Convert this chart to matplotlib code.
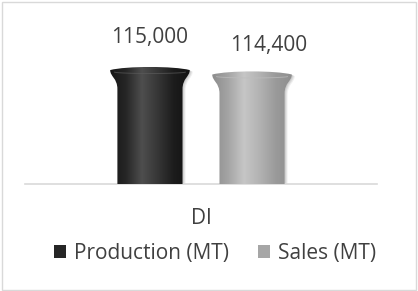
import numpy as np
import matplotlib
matplotlib.use('Agg')
import matplotlib.pyplot as plt
from matplotlib.path import Path
from matplotlib.patches import PathPatch, Rectangle, Patch
from matplotlib.colors import LinearSegmentedColormap
from matplotlib.transforms import ScaledTranslation

# data
categories = ['DI']
series_names = ['Production (MT)', 'Sales (MT)']
production = [115000]
sales = [114400]
labels = ['115,000', '114,400']

plt.rcParams['font.family'] = ['Open Sans', 'DejaVu Sans']
text_col = '#404040'

fig = plt.figure(figsize=(4.18, 2.91), dpi=100)
ax = fig.add_axes([25 / 418, 1 - 184 / 291, 352 / 418, 164 / 291])

ymin, ymax = 99200, 121340
x = np.arange(len(categories))
offset = 0.145
body_w = 0.185
flare_w = 0.226
flare_h = 3000
dome = 420

# gradient colours for each series
grads = [
    ['#161616', '#262626', '#4e4e4e', '#363636', '#1c1c1c', '#131313'],
    ['#8c8c8c', '#a4a4a4', '#c6c6c6', '#b2b2b2', '#9a9a9a', '#8e8e8e'],
]
cap_cols = ['#5a5a5a', '#bdbdbd']
# label nudges in points (second label sits right of its bar in the original)
label_nudge = [(0, 0), (12, -3)]

bars = []
for i, vals in enumerate([production, sales]):
    b = ax.bar(x + (i - 0.5) * 2 * offset, vals, body_w, bottom=0,
               color='none', edgecolor='none', label=series_names[i])
    bars.append(b)


def pipe_path(cx, top):
    bw = body_w / 2
    fw = flare_w / 2
    y_neck = top - flare_h
    y_lip = top - dome
    verts = [
        (cx - bw, ymin), (cx - bw, y_neck),
        (cx - bw, y_neck + flare_h * 0.5), (cx - fw, y_lip - flare_h * 0.3),
        (cx - fw, y_lip),
        (cx - fw * 0.6, top + dome / 3), (cx + fw * 0.6, top + dome / 3),
        (cx + fw, y_lip),
        (cx + fw, y_lip - flare_h * 0.3), (cx + bw, y_neck + flare_h * 0.5),
        (cx + bw, y_neck),
        (cx + bw, ymin), (cx - bw, ymin),
    ]
    codes = [Path.MOVETO, Path.LINETO,
             Path.CURVE4, Path.CURVE4, Path.CURVE4,
             Path.CURVE4, Path.CURVE4, Path.CURVE4,
             Path.CURVE4, Path.CURVE4, Path.CURVE4,
             Path.LINETO, Path.CLOSEPOLY]
    return Path(verts, codes)


for i, b in enumerate(bars):
    cmap = LinearSegmentedColormap.from_list('g%d' % i, grads[i])
    for rect in b:
        cx = rect.get_x() + rect.get_width() / 2
        top = rect.get_height()
        p = pipe_path(cx, top)
        # soft shadow on the right
        for k, a in [(3.0, 0.06), (2.0, 0.08), (1.0, 0.08)]:
            sh = PathPatch(p, facecolor='#000000', edgecolor='none', alpha=a,
                           transform=ax.transData + ScaledTranslation(
                               k / 100, -k / 200, fig.dpi_scale_trans))
            ax.add_patch(sh)
        patch = PathPatch(p, facecolor='none', edgecolor='none')
        ax.add_patch(patch)
        grad = np.linspace(0, 1, 256).reshape(1, -1)
        im = ax.imshow(grad, cmap=cmap, aspect='auto',
                       extent=[cx - flare_w / 2, cx + flare_w / 2, ymin, top + dome],
                       zorder=2)
        im.set_clip_path(patch)
        # faint rim line under the top
        t = np.linspace(0.15, np.pi - 0.15, 60)
        ax.plot(cx + flare_w / 2 * 0.9 * np.cos(t), top - dome * 1.6 - dome * 0.5 * np.sin(t),
                color=cap_cols[i], lw=0.7, alpha=0.7, zorder=3)
        ax.annotate(labels[i], (cx, top), xytext=(label_nudge[i][0], 14 + label_nudge[i][1]),
                    textcoords='offset points', ha='center', va='bottom',
                    fontsize=15, color=text_col)

ax.set_xlim(-0.5, 0.5)
ax.set_ylim(ymin, ymax)
for s in ['top', 'right', 'left']:
    ax.spines[s].set_visible(False)
ax.spines['bottom'].set_color('#d9d9d9')
ax.spines['bottom'].set_linewidth(1.2)
ax.spines['bottom'].set_zorder(1)
ax.set_yticks([])
ax.set_xticks(x)
ax.set_xticklabels(categories, fontsize=15, color=text_col)
ax.tick_params(axis='x', length=0, pad=17)

handles = [Patch(facecolor='#262626', edgecolor='none'),
           Patch(facecolor='#a6a6a6', edgecolor='none')]
fig.legend(handles, series_names, loc='center', bbox_to_anchor=(0.515, 1 - 253 / 291),
           ncol=2, frameon=False, fontsize=15, labelcolor=text_col,
           handlelength=0.55, handleheight=0.6, handletextpad=0.4, columnspacing=1.4)

fig.patches.append(Rectangle((2 / 418, 1 / 291), 414 / 418, 288 / 291,
                             transform=fig.transFigure, fill=False,
                             edgecolor='#d9d9d9', lw=1))

fig.savefig('out.png', dpi=100)
